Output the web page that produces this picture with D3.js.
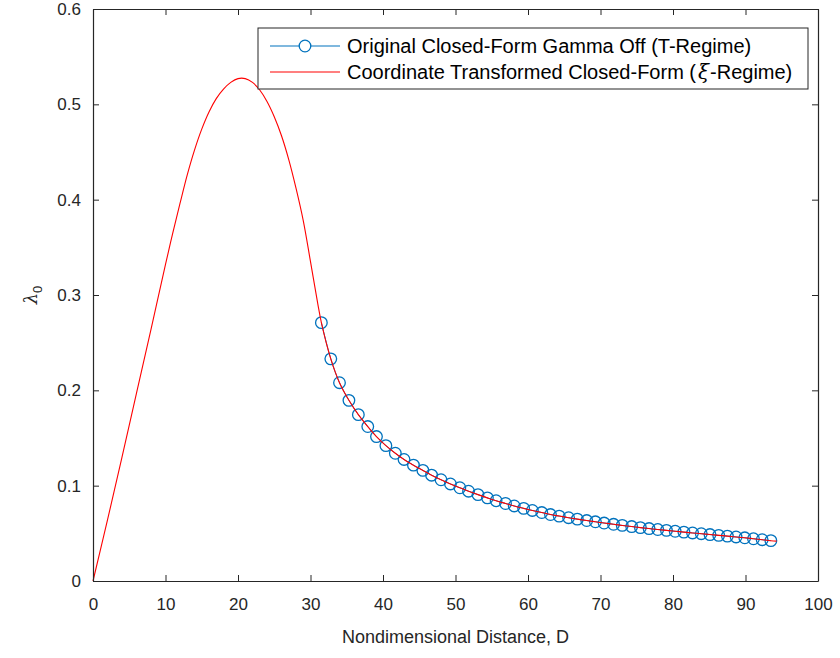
<!DOCTYPE html>
<html>
<head>
<meta charset="utf-8">
<script src="https://cdn.jsdelivr.net/npm/d3@7"></script>
<style>
  body { margin: 0; background: #fff; }
  text { font-family: "Liberation Sans", Arial, Helvetica, sans-serif; }
</style>
</head>
<body>
<script>
'use strict';

// red curve, rising part up to where the circle markers start
const redD = [0, 2, 4, 6, 8, 10, 11, 12, 13, 14, 15, 16, 17, 18, 19, 20, 21, 22, 23, 24, 25, 26, 27, 28, 29, 30, 31];
const redL = [0, 0.064, 0.130, 0.197, 0.264, 0.332, 0.365, 0.396, 0.426, 0.452, 0.474, 0.492, 0.506, 0.516, 0.523, 0.527, 0.527, 0.523, 0.515, 0.503, 0.487, 0.467, 0.442, 0.412, 0.378, 0.335, 0.291];
// red curve keeps going a bit past the last marker
const redEndD = [94.3];
const redEndL = [0.0418];

// circle markers (T-regime)
const markD = [31.5, 32.8, 34.0, 35.3, 36.6, 37.9, 39.1, 40.4, 41.7, 42.9,
  44.2, 45.5, 46.7, 48.0, 49.3, 50.6, 51.8, 53.1, 54.4, 55.6,
  56.9, 58.1, 59.4, 60.6, 61.9, 63.1, 64.3, 65.6, 66.8, 68.1,
  69.3, 70.5, 71.8, 73.0, 74.3, 75.5, 76.7, 77.9, 79.1, 80.3,
  81.5, 82.7, 83.9, 85.1, 86.3, 87.5, 88.7, 89.9, 91.1, 92.3, 93.5];
const markL = [0.271, 0.233, 0.208, 0.1895, 0.1745, 0.162, 0.1515, 0.142, 0.134, 0.1275,
  0.1215, 0.116, 0.111, 0.1062, 0.1018, 0.0978, 0.0942, 0.0906, 0.0872, 0.0842,
  0.0813, 0.0787, 0.0762, 0.0740, 0.0718, 0.0697, 0.0681, 0.0664, 0.0649, 0.0634,
  0.0621, 0.0608, 0.0595, 0.0583, 0.0571, 0.0560, 0.0550, 0.0540, 0.0531, 0.0522,
  0.0513, 0.0504, 0.0496, 0.0487, 0.0479, 0.0471, 0.0462, 0.0453, 0.0443, 0.0433, 0.0423];

const xTicks = [0, 10, 20, 30, 40, 50, 60, 70, 80, 90, 100];
const yTicks = [0, 0.1, 0.2, 0.3, 0.4, 0.5, 0.6];

const legendLabels = ['Original Closed-Form Gamma Off (T-Regime)', 'Coordinate Transformed Closed-Form ('];

(function() {
  const blue = '#0072BD';
  const red = '#FF0000';
  const axisCol = '#262626';

  let svg = d3.select('body').append('svg')
    .attr('width', 840)
    .attr('height', 658);

  // plot box
  const pL = 93, pR = 818, pT = 9, pB = 581;

  let x = d3.scaleLinear().domain([0, 100]).range([pL, pR]);
  let y = d3.scaleLinear().domain([0, 0.6]).range([pB, pT]);

  // data
  let markPts = markD.map((d, i) => [d, markL[i]]);
  let redPts = redD.map((d, i) => [d, redL[i]])
    .concat(markPts)
    .concat(redEndD.map((d, i) => [d, redEndL[i]]));

  let line = d3.line()
    .x((d) => x(d[0]))
    .y((d) => y(d[1]))
    .curve(d3.curveCatmullRom.alpha(0.5));

  // blue series first (line + circles), red drawn on top
  svg.append('path')
    .datum(markPts)
    .attr('d', line)
    .attr('fill', 'none')
    .attr('stroke', blue)
    .attr('stroke-width', 1);

  svg.selectAll('.mark')
    .data(markPts)
    .enter()
    .append('circle')
      .attr('class', 'mark')
      .attr('cx', (d) => x(d[0]))
      .attr('cy', (d) => y(d[1]))
      .attr('r', 5.8)
      .attr('fill', 'none')
      .attr('stroke', blue)
      .attr('stroke-width', 1.3);

  svg.append('path')
    .datum(redPts)
    .attr('d', line)
    .attr('fill', 'none')
    .attr('stroke', red)
    .attr('stroke-width', 1.1);

  // axes (ticks pointing inward, mirrored on top/right)
  let xAxis = d3.axisBottom(x).tickValues(xTicks).tickSizeInner(-6).tickSizeOuter(0).tickPadding(17)
    .tickFormat(d3.format('d'));
  let gx = svg.append('g').attr('transform', `translate(0, ${pB})`).call(xAxis);

  let yAxis = d3.axisLeft(y).tickValues(yTicks).tickSizeInner(-6).tickSizeOuter(0).tickPadding(12)
    .tickFormat((d) => d === 0 ? '0' : d3.format('.1f')(d));
  let gy = svg.append('g').attr('transform', `translate(${pL}, 0)`).call(yAxis);

  let gxTop = svg.append('g').attr('transform', `translate(0, ${pT})`)
    .call(d3.axisTop(x).tickValues(xTicks).tickSizeInner(-6).tickSizeOuter(0).tickFormat(''));
  let gyRight = svg.append('g').attr('transform', `translate(${pR}, 0)`)
    .call(d3.axisRight(y).tickValues(yTicks).tickSizeInner(-6).tickSizeOuter(0).tickFormat(''));

  [gx, gy, gxTop, gyRight].forEach((g) => {
    g.select('.domain').attr('stroke', axisCol).attr('stroke-width', 1.2);
    g.selectAll('.tick line').attr('stroke', axisCol).attr('stroke-width', 1);
    g.selectAll('.tick text')
      .attr('fill', axisCol)
      .style('font-size', '17px')
      .style('font-family', '"Liberation Sans", Arial, sans-serif');
  });

  // axis labels
  svg.append('text')
    .attr('x', (pL + pR) / 2)
    .attr('y', 643)
    .attr('text-anchor', 'middle')
    .attr('fill', axisCol)
    .style('font-size', '18px')
    .text('Nondimensional Distance, D');

  let yl = svg.append('text')
    .attr('transform', `translate(37, ${(pT + pB) / 2}) rotate(-90)`)
    .attr('text-anchor', 'middle')
    .attr('fill', axisCol)
    .style('font-size', '18px');
  yl.append('tspan').style('font-family', '"DejaVu Serif", "Liberation Serif", serif').style('font-style', 'italic').text('λ');
  yl.append('tspan').attr('dy', 5).style('font-size', '13px').text('0');

  // legend
  const lgX = 258, lgY = 28, lgW = 550, lgH = 61;
  svg.append('rect')
    .attr('x', lgX).attr('y', lgY)
    .attr('width', lgW).attr('height', lgH)
    .attr('fill', '#fff')
    .attr('stroke', axisCol)
    .attr('stroke-width', 1);

  let row1 = lgY + 18, row2 = lgY + 44;
  svg.append('line')
    .attr('x1', lgX + 12).attr('x2', lgX + 82)
    .attr('y1', row1).attr('y2', row1)
    .attr('stroke', blue).attr('stroke-width', 1.2);
  svg.append('circle')
    .attr('cx', lgX + 47).attr('cy', row1).attr('r', 5.8)
    .attr('fill', '#fff').attr('stroke', blue).attr('stroke-width', 1.3);
  svg.append('line')
    .attr('x1', lgX + 12).attr('x2', lgX + 82)
    .attr('y1', row2).attr('y2', row2)
    .attr('stroke', red).attr('stroke-width', 1.2);

  svg.append('text')
    .attr('x', lgX + 89).attr('y', row1 + 6.5)
    .attr('fill', '#000')
    .style('font-size', '20px')
    .text(legendLabels[0]);
  let t2 = svg.append('text')
    .attr('x', lgX + 89).attr('y', row2 + 6.5)
    .attr('fill', '#000')
    .style('font-size', '20px');
  t2.append('tspan').text(legendLabels[1]);
  t2.append('tspan').attr('dx', 2).style('font-family', '"DejaVu Serif", "Liberation Serif", serif').style('font-style', 'italic').text('ξ');
  t2.append('tspan').attr('dx', 1).text('-Regime)');
})();
</script>
</body>
</html>
